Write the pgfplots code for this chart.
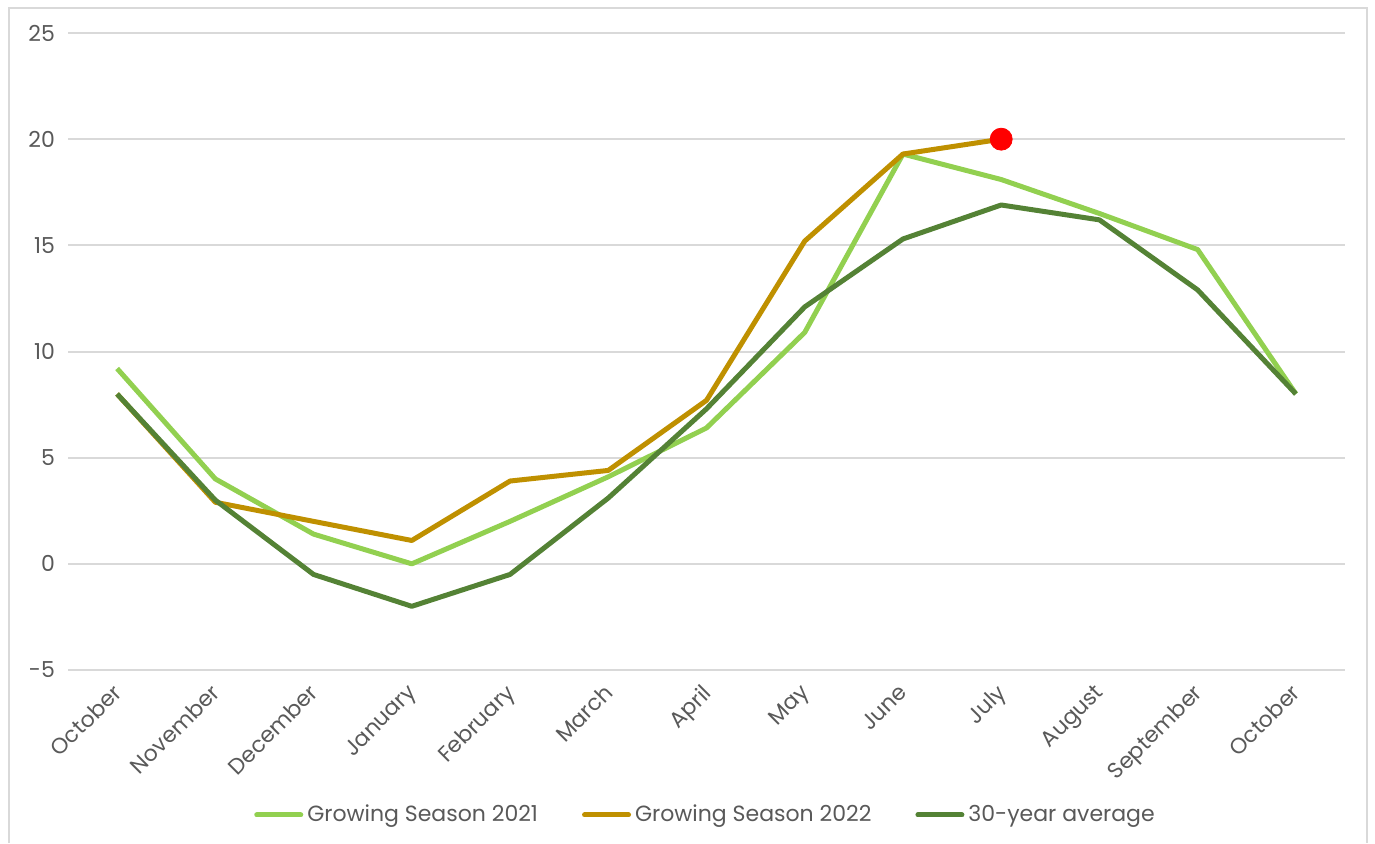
\documentclass[border=0pt]{standalone}
\usepackage{fontspec}
\setmainfont{Poppins}
\usepackage{pgfplots}
\pgfplotsset{compat=1.18}
\definecolor{lg}{HTML}{92D050}
\definecolor{gold}{HTML}{BF9000}
\definecolor{dg}{HTML}{548235}
\definecolor{gridc}{HTML}{D9D9D9}
\definecolor{txt}{HTML}{595959}
\begin{document}
\begin{tikzpicture}
\useasboundingbox (0,0) rectangle (687.5pt,421.5pt);
\draw[gridc, line width=1pt] (4.5pt,0pt) -- (4.5pt,417.5pt) -- (683.5pt,417.5pt) -- (683.5pt,0pt);
\begin{axis}[
  at={(34pt,86.5pt)}, anchor=south west,
  scale only axis, width=638.5pt, height=318.5pt,
  xmin=-0.5, xmax=12.5, ymin=-5, ymax=25,
  ytick={-5,0,5,10,15,20,25},
  xtick={0,...,12},
  xticklabels={October,November,December,January,February,March,April,May,June,July,August,September,October},
  axis line style={draw=none},
  major tick length=0pt,
  xmajorgrids=false, ymajorgrids=true,
  major grid style={draw=gridc, line width=1pt},
  tick label style={font=\fontsize{11}{13}\selectfont, text=txt},
  /pgf/number format/assume math mode=true,
  yticklabel style={xshift=-3pt},
  xticklabel style={rotate=45, anchor=north east, xshift=-3pt, yshift=1pt},
  legend columns=3,
  legend style={at={(axis description cs:0.5,-0.2276)}, anchor=center, draw=none, font=\fontsize{11}{13}\selectfont, text=txt, /tikz/every even column/.append style={column sep=20pt}},
  legend image code/.code={\draw[#1, line width=2.5pt, line cap=round] (0pt,0pt) -- (22pt,0pt);},
]
\addplot[lg, line width=2.5pt, line join=round] coordinates {(0,9.2)(1,4.0)(2,1.4)(3,0.0)(4,2.0)(5,4.1)(6,6.4)(7,10.9)(8,19.3)(9,18.1)(10,16.5)(11,14.8)(12,8.0)};
\addlegendentry{Growing Season 2021}
\addplot[gold, line width=2.5pt, line join=round] coordinates {(0,8.0)(1,2.9)(2,2.0)(3,1.1)(4,3.9)(5,4.4)(6,7.7)(7,15.2)(8,19.3)(9,20.0)};
\addlegendentry{Growing Season 2022}
\addplot[dg, line width=2.5pt, line join=round] coordinates {(0,8.0)(1,3.0)(2,-0.5)(3,-2.0)(4,-0.5)(5,3.1)(6,7.3)(7,12.1)(8,15.3)(9,16.9)(10,16.2)(11,12.9)(12,8.0)};
\addlegendentry{30-year average}
\addplot[red, only marks, mark=*, mark size=5.5pt, forget plot] coordinates {(9,20.0)};
\end{axis}
\end{tikzpicture}
\end{document}
